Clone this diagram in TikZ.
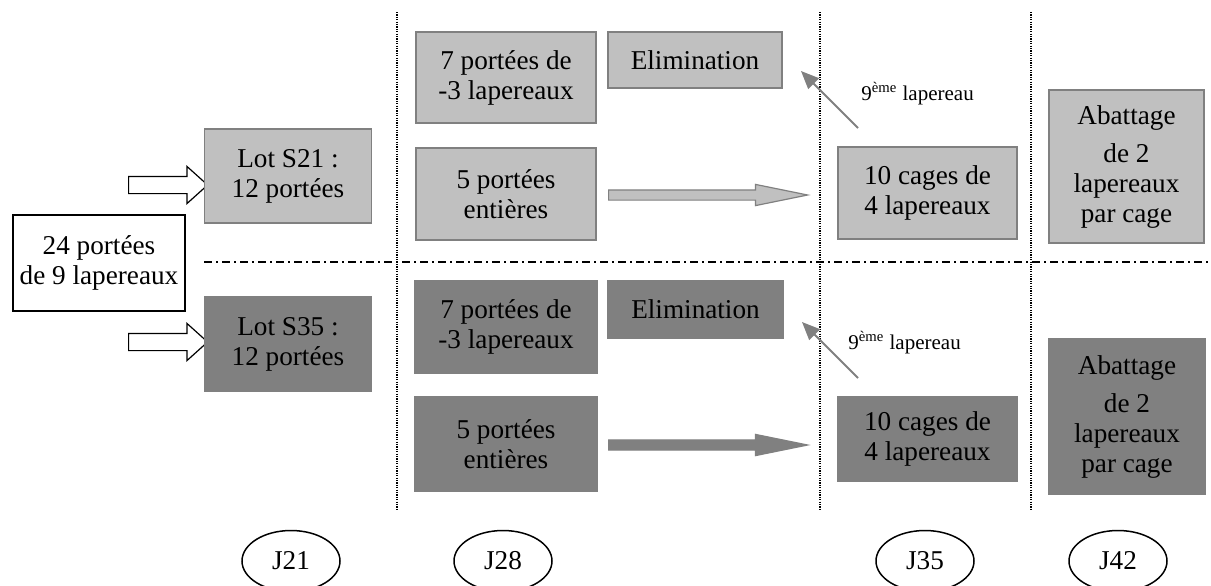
\documentclass[tikz,border=0pt]{standalone}
\usepackage{fontspec}
\setmainfont{Liberation Serif}
\usetikzlibrary{arrows.meta,shapes.geometric,shapes.arrows}

\definecolor{lightgrey}{RGB}{192,192,192}
\definecolor{midgrey}{RGB}{128,128,128}

\tikzset{
  boxtext/.style={font=\fontsize{13.6}{15}\selectfont,align=center,inner sep=0pt},
  lightbox/.style={boxtext,draw=midgrey,fill=lightgrey,line width=0.75pt},
  darkbox/.style={boxtext,draw=midgrey,fill=midgrey,line width=0.75pt},
  startbox/.style={boxtext,draw=black,fill=white,line width=0.7pt},
  dayellipse/.style={boxtext,ellipse,draw=black,line width=0.75pt,
    minimum width=49pt,minimum height=30.5pt},
  hollowarrow/.style={single arrow,draw=black,fill=white,line width=0.6pt,
    inner xsep=0pt,inner ysep=4pt,minimum height=39.5pt,
    single arrow head extend=5pt,single arrow tip angle=84,anchor=tail},
  fatarrow/.style={single arrow,draw=midgrey,line width=0.6pt,
    inner xsep=0pt,inner ysep=2.25pt,minimum height=99.5pt,
    single arrow head extend=2.75pt,single arrow tip angle=23,anchor=tail},
  thinarrow/.style={draw=midgrey,line width=1pt,
    -{Triangle[length=9pt,width=7.5pt]}},
  lapereau/.style={font=\fontsize{10.5}{12}\selectfont,inner sep=0pt,anchor=base west},
  colline/.style={line width=0.6pt,dash pattern=on 0.6pt off 0.6pt},
  rowline/.style={line width=0.75pt,dash pattern=on 4pt off 2pt on 1pt off 2pt}
}

\begin{document}
\begin{tikzpicture}[x=0.5pt,y=-0.5pt]
\useasboundingbox (0,0) rectangle (1211,585);

% separations
\foreach \x in {397,820,1031}
  \draw[colline] (\x,12)--(\x,510);
\draw[rowline] (204,262)--(1211,262);

% depart
\node[startbox,minimum width=86pt,minimum height=48pt] (init) at (99,263) {24 portées\\de 9 lapereaux};
\node[hollowarrow] (in1) at (128,185) {};
\node[hollowarrow] (in2) at (128,342) {};

% lot S21
\node[lightbox,minimum width=83.5pt,minimum height=47pt] (lot1) at (288,176) {Lot S21 :\\12 portées};
\node[lightbox,minimum width=90pt,minimum height=45.5pt] (p7a) at (506,77.5) {7 portées de\\-3 lapereaux};
\node[lightbox,minimum width=87pt,minimum height=28pt] (elim1) at (695,60) {Elimination};
\node[lightbox,minimum width=90pt,minimum height=46pt] (p5a) at (506,194) {5 portées\\entières};
\node[lightbox,minimum width=89.5pt,minimum height=46pt] (c10a) at (927.5,193) {10 cages de\\4 lapereaux};
\node[lightbox,minimum width=77.5pt,minimum height=76.5pt] (ab1) at (1126.5,166.5) {Abattage\\[4pt]de 2\\lapereaux\\par cage};
\node[fatarrow,fill=lightgrey] (fa1) at (608,195) {};
\coordinate (from1) at (858,128);
\coordinate (to1) at (801,71);
\draw[thinarrow] (from1)--(to1);
\node[lapereau] (lab1) at (861,100) {9\textsuperscript{ème} lapereau};

% lot S35
\node[darkbox,minimum width=83.5pt,minimum height=47pt] (lot2) at (288,344) {Lot S35 :\\12 portées};
\node[darkbox,minimum width=91pt,minimum height=46pt] (p7b) at (506,327) {7 portées de\\-3 lapereaux};
\node[darkbox,minimum width=87.5pt,minimum height=28.5pt] (elim2) at (695.5,309.5) {Elimination};
\node[darkbox,minimum width=91pt,minimum height=47pt] (p5b) at (506,444) {5 portées\\entières};
\node[darkbox,minimum width=89.5pt,minimum height=42pt] (c10b) at (927.5,439) {10 cages de\\4 lapereaux};
\node[darkbox,minimum width=78pt,minimum height=77.5pt] (ab2) at (1127,416.5) {Abattage\\[4pt]de 2\\lapereaux\\par cage};
\node[fatarrow,fill=midgrey] (fa2) at (608,445) {};
\coordinate (from2) at (858,378);
\coordinate (to2) at (802,322);
\draw[thinarrow] (from2)--(to2);
\node[lapereau] (lab2) at (848,349) {9\textsuperscript{ème} lapereau};

% jours
\node[dayellipse] (j21) at (291,561) {J21};
\node[dayellipse] (j28) at (503,561) {J28};
\node[dayellipse] (j35) at (925,561) {J35};
\node[dayellipse] (j42) at (1118,561) {J42};

\end{tikzpicture}
\end{document}
